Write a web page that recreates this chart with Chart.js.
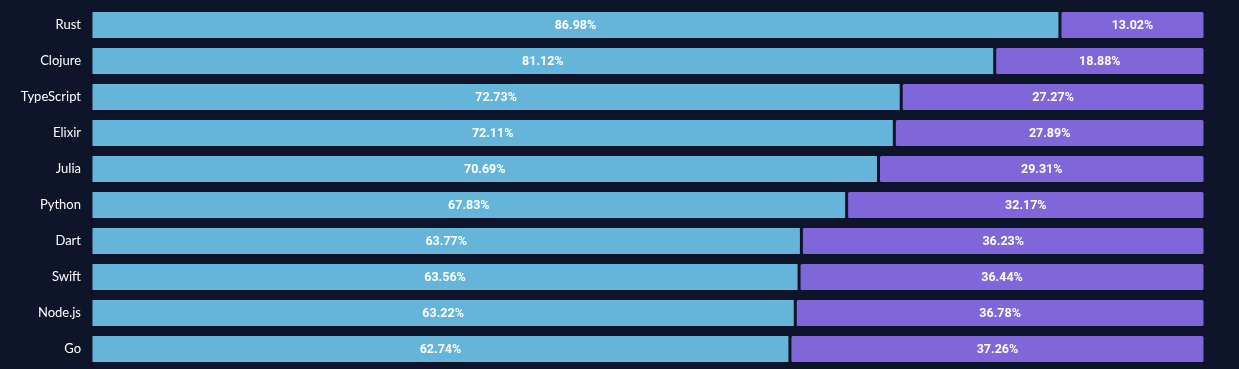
<!DOCTYPE html>
<html>
<head>
<meta charset="utf-8">
<script src="https://cdn.jsdelivr.net/npm/chart.js@4.4.0/dist/chart.umd.min.js"></script>
<style>
  html, body { margin: 0; padding: 0; background: #0e152b; overflow: hidden; }
  canvas { display: block; }
</style>
</head>
<body>
<canvas id="myChart" width="1239" height="369"></canvas>
<script>
const languages = ["Rust", "Clojure", "TypeScript", "Elixir", "Julia", "Python", "Dart", "Swift", "Node.js", "Go"];
const loved = [86.98, 81.12, 72.73, 72.11, 70.69, 67.83, 63.77, 63.56, 63.22, 62.74];
const dreaded = [13.02, 18.88, 27.27, 27.89, 29.31, 32.17, 36.23, 36.44, 36.78, 37.26];

const ctx = document.getElementById('myChart');

// draws the percentage in the middle of every bar
const barLabels = {
    id: 'barLabels',
    afterDatasetsDraw(chart) {
        const c = chart.ctx;
        c.save();
        c.fillStyle = '#ffffff';
        c.font = 'bold 12.5px Roboto, sans-serif';
        c.textAlign = 'center';
        c.textBaseline = 'middle';
        chart.data.datasets.forEach((ds, i) => {
            chart.getDatasetMeta(i).data.forEach((bar, j) => {
                const mid = (bar.x + bar.base) / 2;
                c.fillText(ds.data[j].toFixed(2) + '%', mid, bar.y + 1);
            });
        });
        c.restore();
    }
};

new Chart(ctx, {
    type: 'bar',
    data: {
        labels: languages,
        datasets: [{
            label: "Loved",
            data: loved,
            backgroundColor: '#65b5db',
            borderColor: '#0e152b',
            borderWidth: 1.5,
            borderRadius: 3,
            borderSkipped: false,
            barPercentage: 0.8,
            categoryPercentage: 1
        }, {
            label: "Dreaded",
            data: dreaded,
            backgroundColor: '#7f67d9',
            borderColor: '#0e152b',
            borderWidth: 1.5,
            borderRadius: 3,
            borderSkipped: false,
            barPercentage: 0.8,
            categoryPercentage: 1
        }]
    },
    options: {
        indexAxis: 'y',
        responsive: false,
        animation: false,
        layout: { padding: { top: 7, right: 34, bottom: 2, left: 0 } },
        plugins: {
            legend: { display: false },
            tooltip: { enabled: false }
        },
        scales: {
            x: {
                stacked: true,
                min: 0,
                max: 100,
                display: false
            },
            y: {
                stacked: true,
                grid: { display: false, drawTicks: false },
                border: { display: false },
                ticks: {
                    color: '#ffffff',
                    padding: 10,
                    font: { size: 13, family: 'Lato, sans-serif' }
                },
                afterFit(axis) {
                    axis.width = 91;
                    axis.paddingTop = 0;
                    axis.paddingBottom = 0;
                }
            }
        }
    },
    plugins: [barLabels]
});
</script>
</body>
</html>
